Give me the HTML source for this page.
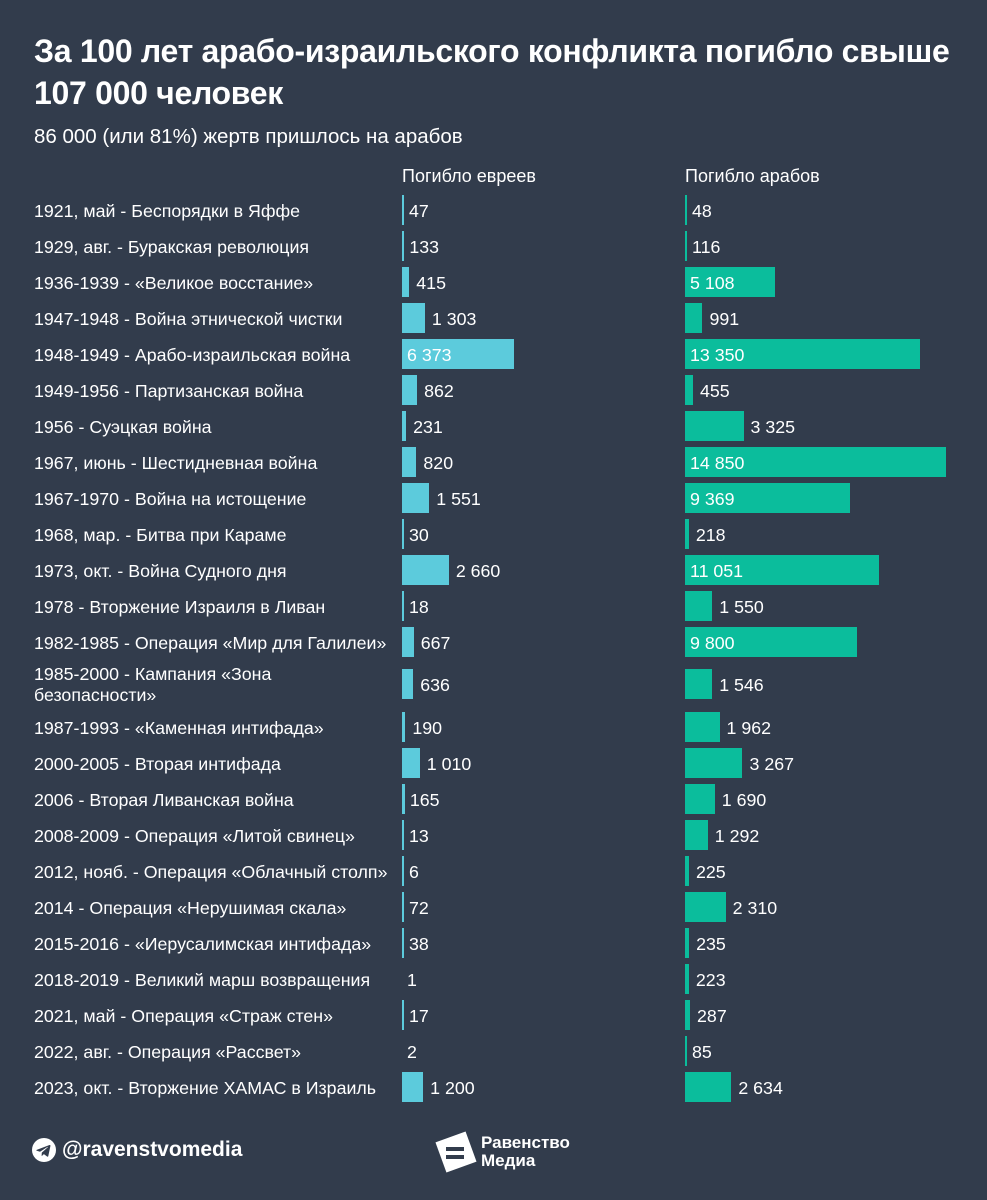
<!DOCTYPE html>
<html><head><meta charset="utf-8">
<style>
body{margin:0;width:987px;height:1200px;background:#323c4c;font-family:"Liberation Sans",sans-serif;color:#fff;position:relative;overflow:hidden}
.abs{position:absolute}
h1{position:absolute;left:34px;top:30px;margin:0;font-size:32px;line-height:42px;font-weight:bold;width:950px;letter-spacing:-0.3px}
.sub{left:34px;top:125px;font-size:20.5px}
.hdr{top:166px;font-size:18px}
.lab{left:34px;font-size:17.8px;line-height:21px;width:370px}
.val{font-size:17.8px;line-height:20px}
.bar{height:30px}
</style></head><body>
<h1>За 100 лет арабо-израильского конфликта погибло свыше 107 000 человек</h1>
<div class="abs sub">86 000 (или 81%) жертв пришлось на арабов</div>
<div class="abs hdr" style="left:402px">Погибло евреев</div>
<div class="abs hdr" style="left:685px">Погибло арабов</div>
<div id="rows"></div>
<svg class="abs" style="left:32px;top:1138px" width="24" height="24" viewBox="0 0 24 24"><circle cx="12" cy="12" r="12" fill="#fff"/><path d="M5 11.8l12.5-4.8c.6-.2 1.1.1.9 1l-2.1 10c-.1.7-.6.9-1.2.5l-3.2-2.4-1.6 1.5c-.2.2-.3.3-.7.3l.2-3.3 6-5.4c.3-.2-.1-.4-.4-.2l-7.4 4.7-3.2-1c-.7-.2-.7-.7.2-.9z" fill="#323c4c"/></svg>
<div class="abs" style="left:62px;top:1138px;font-size:21px;font-weight:bold">@ravenstvomedia</div>
<svg class="abs" style="left:432px;top:1128px" width="48" height="48" viewBox="0 0 48 48"><rect x="8" y="8" width="32" height="32" fill="#fff" transform="rotate(-20 24 24)"/><rect x="14" y="19" width="18" height="4" fill="#323c4c"/><rect x="14" y="27" width="18" height="4" fill="#323c4c"/></svg>
<div class="abs" style="left:481px;top:1134px;font-size:17px;font-weight:bold;line-height:18px">Равенство<br>Медиа</div>
<script>
const labels=["1921, май - Беспорядки в Яффе","1929, авг. - Буракская революция","1936-1939 - «Великое восстание»","1947-1948 - Война этнической чистки","1948-1949 - Арабо-израильская война","1949-1956 - Партизанская война","1956 - Суэцкая война","1967, июнь - Шестидневная война","1967-1970 - Война на истощение","1968, мар. - Битва при Караме","1973, окт. - Война Судного дня","1978 - Вторжение Израиля в Ливан","1982-1985 - Операция «Мир для Галилеи»","1985-2000 - Кампания «Зона безопасности»","1987-1993 - «Каменная интифада»","2000-2005 - Вторая интифада","2006 - Вторая Ливанская война","2008-2009 - Операция «Литой свинец»","2012, нояб. - Операция «Облачный столп»","2014 - Операция «Нерушимая скала»","2015-2016 - «Иерусалимская интифада»","2018-2019 - Великий марш возвращения","2021, май - Операция «Страж стен»","2022, авг. - Операция «Рассвет»","2023, окт. - Вторжение ХАМАС в Израиль"];
const jews=[47,133,415,1303,6373,862,231,820,1551,30,2660,18,667,636,190,1010,165,13,6,72,38,1,17,2,1200];
const arabs=[48,116,5108,991,13350,455,3325,14850,9369,218,11051,1550,9800,1546,1962,3267,1690,1292,225,2310,235,223,287,85,2634];
const scale=v=>v*0.0176;
const fmt=v=>String(v).replace(/\B(?=(\d{3})+(?!\d))/g,' ');
const root=document.getElementById('rows');
let y=210;
labels.forEach((l,i)=>{
  const two=i===13;
  if(i===13)y+=6; if(i===14)y+=7;
  const lab=document.createElement('div');
  lab.className='abs lab';
  lab.style.top=(y-(two?20:9))+'px';
  lab.style.width=two?'260px':'370px';
  lab.textContent=l;
  
  
  root.appendChild(lab);
  [[jews[i],402,'#5ccbdc','jews-bar'],[arabs[i],685,'#0bbd9c','arabs-bar']].forEach(([v,x0,c,n])=>{
    let w=scale(v); if(v>=5&&w<2)w=2; if(v<5)w=0;
    const b=document.createElement('div');
    b.className='abs bar';
    b.style.cssText+=`left:${x0}px;top:${y-15}px;width:${w}px;background:${c}`;
    
    
    root.appendChild(b);
    const t=document.createElement('div');
    t.className='abs val';
    const inside=w>80;
    t.style.left=(inside?x0+5:x0+w+(w>3?7:5))+'px';
    t.style.top=(y-9)+'px';
    t.textContent=fmt(v);
    
    
    root.appendChild(t);
  });
  y+=36;
});
</script>
</body></html>
